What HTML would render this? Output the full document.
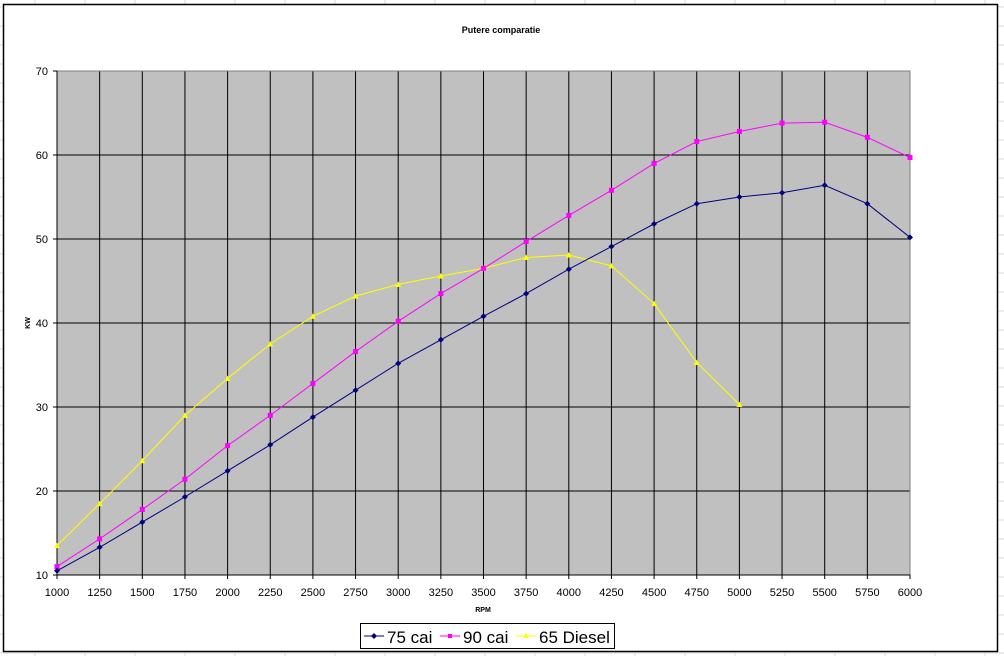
<!DOCTYPE html>
<html><head><meta charset="utf-8"><style>
html,body{margin:0;padding:0;background:#fff;width:1004px;height:656px;overflow:hidden}
svg{display:block}
text{font-family:"Liberation Sans",sans-serif}
</style></head><body>
<svg id="s" width="1004" height="656" xmlns="http://www.w3.org/2000/svg"></svg>
<script>
const s=document.getElementById('s');
let h='';
// spreadsheet background grid
for(let x=35;x<1004;x+=50) h+=`<line x1="${x}" y1="0" x2="${x}" y2="656" stroke="#d8d8d8" stroke-width="1"/>`;
for(let y=7;y<656;y+=19) h+=`<line x1="0" y1="${y}" x2="1004" y2="${y}" stroke="#d8d8d8" stroke-width="1"/>`;
h+=`<rect x="3.5" y="4.5" width="994" height="647" fill="#fff" stroke="#000" stroke-width="1.5"/>`;
const L=57,R=910,T=71,B=575;
const X=i=>L+(R-L)*i/20, Y=v=>B-(v-10)*(B-T)/60;
h+=`<rect x="${L}" y="${T}" width="${R-L}" height="${B-T}" fill="#c0c0c0"/>`;
for(let v=20;v<=60;v+=10) h+=`<line x1="${L}" y1="${Y(v)}" x2="${R}" y2="${Y(v)}" stroke="#000" stroke-width="1"/>`;
for(let i=1;i<20;i++) h+=`<line x1="${X(i)}" y1="${T}" x2="${X(i)}" y2="${B}" stroke="#000" stroke-width="1"/>`;
h+=`<rect x="${L}" y="${T}" width="${R-L}" height="${B-T}" fill="none" stroke="#808080" stroke-width="1"/>`;
h+=`<line x1="${L}" y1="${T}" x2="${L}" y2="${B}" stroke="#000"/><line x1="${L}" y1="${B}" x2="${R}" y2="${B}" stroke="#000"/>`;
for(let v=10;v<=70;v+=10){h+=`<line x1="${L-4}" y1="${Y(v)}" x2="${L}" y2="${Y(v)}" stroke="#000"/><text x="${L-9}" y="${Y(v)+4}" font-size="11" text-anchor="end">${v}</text>`;}
for(let i=0;i<=20;i++){h+=`<line x1="${X(i)}" y1="${B}" x2="${X(i)}" y2="${B+4}" stroke="#000"/><text x="${X(i)}" y="${B+21}" font-size="11" text-anchor="middle">${1000+250*i}</text>`;}
h+=`<text x="501" y="33" font-size="9" font-weight="bold" text-anchor="middle">Putere comparatie</text>`;
h+=`<text x="483" y="612" font-size="7" font-weight="bold" text-anchor="middle">RPM</text>`;
h+=`<text x="30" y="323" font-size="7" font-weight="bold" text-anchor="middle" transform="rotate(-90 30 323)">KW</text>`;
const a=[10.5,13.3,16.3,19.3,22.4,25.5,28.8,32,35.2,38,40.8,43.5,46.4,49.1,51.8,54.2,55,55.5,56.4,54.2,50.2];
const b=[11,14.3,17.8,21.4,25.4,29,32.8,36.6,40.2,43.5,46.5,49.7,52.8,55.8,59,61.6,62.8,63.8,63.9,62.1,59.7];
const c=[13.5,18.5,23.6,29,33.4,37.5,40.8,43.2,44.6,45.6,46.5,47.8,48.1,46.8,42.3,35.3,30.3];
function ser(d,col,m){h+=`<polyline fill="none" stroke="${col}" stroke-width="1" points="${d.map((v,i)=>X(i)+','+Y(v)).join(' ')}"/>`;
d.forEach((v,i)=>{const x=X(i),y=Y(v);
if(m=='d')h+=`<polygon points="${x},${y-3} ${x+3},${y} ${x},${y+3} ${x-3},${y}" fill="${col}"/>`;
else if(m=='s')h+=`<rect x="${x-2.5}" y="${y-2.5}" width="5" height="5" fill="${col}"/>`;
else h+=`<polygon points="${x},${y-3} ${x+3},${y+2.5} ${x-3},${y+2.5}" fill="${col}"/>`;});}
ser(c,'#ffff00','t');ser(b,'#ff00ff','s');ser(a,'#000080','d');
h+=`<rect x="360.5" y="623.5" width="254" height="25" fill="#fff" stroke="#000" stroke-width="1"/>`;
function leg(x,col,m,t){h+=`<line x1="${x}" y1="636" x2="${x+20}" y2="636" stroke="${col}"/>`;
const cx=x+10,cy=636;
if(m=='d')h+=`<polygon points="${cx},${cy-3} ${cx+3},${cy} ${cx},${cy+3} ${cx-3},${cy}" fill="${col}"/>`;
else if(m=='s')h+=`<rect x="${cx-2}" y="${cy-2}" width="4" height="4" fill="${col}"/>`;
else h+=`<polygon points="${cx},${cy-3} ${cx+3},${cy+2} ${cx-3},${cy+2}" fill="${col}"/>`;
h+=`<text x="${x+23}" y="643" font-size="17">${t}</text>`;}
leg(364,'#000080','d','75 cai');leg(440,'#ff00ff','s','90 cai');leg(516,'#ffff00','t','65 Diesel');
s.innerHTML=h;
</script>
</body></html>
